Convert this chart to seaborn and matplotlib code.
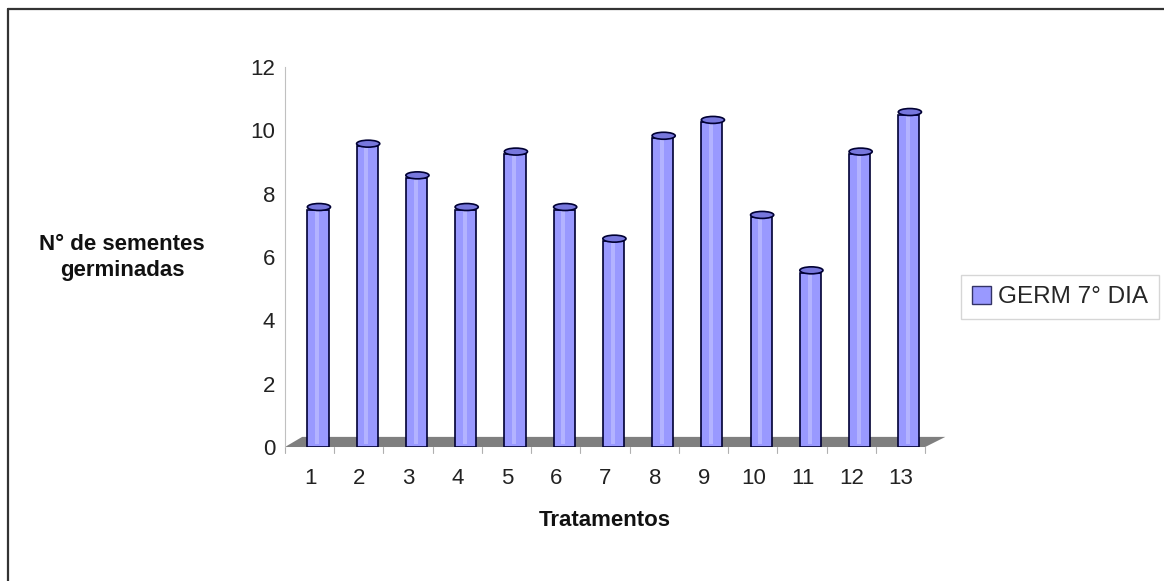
import matplotlib.pyplot as plt
import seaborn as sns
import pandas as pd
from matplotlib.patches import Ellipse, Polygon, Rectangle
from matplotlib.lines import Line2D

tratamentos = [str(i) for i in range(1, 14)]
germ_7_dia = [7.5, 9.5, 8.5, 7.5, 9.25, 7.5, 6.5, 9.75, 10.25, 7.25, 5.5, 9.25, 10.5]
serie = 'GERM 7° DIA'

df = pd.DataFrame({'Tratamentos': tratamentos, 'valor': germ_7_dia})

sns.set_style('white')
plt.rcParams['font.family'] = ['Liberation Sans', 'DejaVu Sans']

fig = plt.figure(figsize=(11.64, 5.81), dpi=100)
ax = fig.add_axes([0.2448, 0.2306, 0.55, 0.654])

bar_w = 0.43
fill = '#9999ff'
edge = '#000033'
x_left, x_right = -0.67, 12.33
shift = 0.16  # bars sit slightly behind/right of the labels (3D look)

# floor of the pseudo-3D chart
floor = Polygon([(x_left, 0), (x_right, 0), (x_right + 0.41, 0.32),
                 (x_left + 0.35, 0.32)],
                closed=True, facecolor='#7f7f7f', edgecolor='none', zorder=1,
                clip_on=False)
ax.add_patch(floor)

sns.barplot(data=df, x='Tratamentos', y='valor', color=fill, width=bar_w,
            edgecolor=edge, linewidth=1.2, saturation=1, ax=ax, zorder=2)

# lighter stripe and cylinder caps
for i, v in enumerate(df['valor']):
    ax.add_patch(Rectangle((i - bar_w / 2 + 0.16, 0.1), 0.08, v - 0.1,
                           facecolor='#b3b3ff', edgecolor='none', zorder=3))
    ax.add_patch(Ellipse((i + 0.02, v + 0.08), bar_w + 0.04, 0.22,
                         facecolor='#7777dd', edgecolor=edge, linewidth=1.2,
                         zorder=4))

ax.set_ylim(0, 12)
ax.set_xlim(x_left, x_right)
ax.set_yticks(range(0, 13, 2))
ax.tick_params(axis='y', labelsize=16, colors='#222222', length=3,
               color='#b0b0b0', direction='out', pad=4)
ax.set_xticks([i - shift for i in range(13)])
ax.set_xticklabels(tratamentos)
ax.tick_params(axis='x', labelsize=16, colors='#222222', length=0, pad=15)
for i in range(14):
    x = x_left + i
    ax.plot([x, x], [0, -0.18], color='#b0b0b0', lw=0.8, clip_on=False)

for s in ['top', 'right', 'bottom']:
    ax.spines[s].set_visible(False)
ax.spines['left'].set_color('#c0c0c0')
ax.spines['left'].set_linewidth(0.8)

ax.set_xlabel('Tratamentos', fontsize=16, fontweight='bold', labelpad=15,
              color='#111111')
ax.set_ylabel('')
fig.text(0.105, 0.557, 'N° de sementes\ngerminadas', fontsize=16,
         fontweight='bold', ha='center', va='center', linespacing=1.3,
         color='#111111')

# legend box
leg_handle = Rectangle((0, 0), 1, 1, facecolor=fill, edgecolor='#333366')
leg = fig.legend([leg_handle], [serie], loc='center left',
                 bbox_to_anchor=(0.826, 0.489), fontsize=17.5, frameon=True,
                 fancybox=False, edgecolor='#cccccc', handlelength=0.75,
                 handleheight=0.75, handletextpad=0.3, borderpad=0.45,
                 borderaxespad=0)

# outer border of the chart area (only top and left edges are visible)
fig.add_artist(Line2D([0.0065, 1.0], [0.985, 0.985], transform=fig.transFigure,
                      color='#333333', lw=1.6))
fig.add_artist(Line2D([0.0065, 0.0065], [0.0, 0.985], transform=fig.transFigure,
                      color='#333333', lw=1.6))

fig.savefig('out.png', dpi=100)
